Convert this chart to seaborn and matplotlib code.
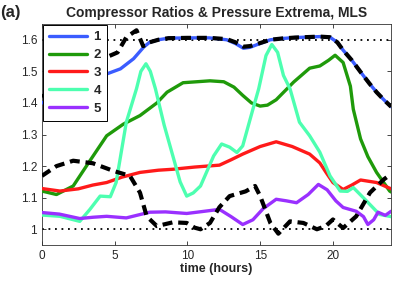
import numpy as np
import pandas as pd
import seaborn as sns
import matplotlib.pyplot as plt

# compressor ratios (series 1..5)
t1 = [0, 2, 4, 5.4, 6.3, 7, 7.4, 8, 8.7, 10, 11.5, 12.7, 13.3, 13.85, 14.3, 14.75, 15.7, 16.5, 17.4, 19.1, 19.8, 20.3, 20.7, 21.3, 21.9, 22.5, 23, 23.5, 24]
y1 = [1.40, 1.44, 1.484, 1.508, 1.540, 1.577, 1.592, 1.600, 1.605, 1.606, 1.606, 1.600, 1.588, 1.573, 1.576, 1.584, 1.600, 1.604, 1.607, 1.610, 1.608, 1.592, 1.567, 1.535, 1.498, 1.462, 1.434, 1.410, 1.388]

t2 = [0, 1, 2.15, 3.3, 4.45, 5.6, 6.74, 7.9, 8.6, 9.7, 11.55, 12.5, 13.2, 13.8, 14.4, 15, 15.5, 16.1, 17.3, 18.4, 19.1, 19.7, 20.15, 20.7, 21.2, 21.4, 21.9, 22.4, 23, 23.9, 24]
y2 = [1.121, 1.11, 1.137, 1.217, 1.296, 1.333, 1.36, 1.40, 1.434, 1.464, 1.47, 1.467, 1.45, 1.424, 1.40, 1.39, 1.393, 1.41, 1.466, 1.51, 1.517, 1.535, 1.551, 1.528, 1.453, 1.38, 1.286, 1.23, 1.18, 1.121, 1.118]

t3 = [0, 1.24, 2.5, 3.5, 4.45, 5.5, 6.74, 8, 9, 10.5, 12.2, 13, 13.8, 15, 16.1, 17.2, 18.4, 19.1, 19.6, 20, 20.7, 21.3, 21.9, 23, 24]
y3 = [1.129, 1.121, 1.128, 1.14, 1.148, 1.165, 1.18, 1.187, 1.19, 1.197, 1.203, 1.22, 1.238, 1.262, 1.277, 1.262, 1.238, 1.21, 1.175, 1.148, 1.126, 1.14, 1.156, 1.148, 1.128]

t4 = [0, 1.24, 2.6, 3.3, 4.0, 4.7, 5.1, 5.8, 6.5, 6.8, 7.15, 7.45, 7.8, 8.4, 9, 9.5, 9.95, 10.4, 10.9, 11.8, 12.35, 12.9, 13.4, 13.8, 14.5, 14.9, 15.4, 15.8, 16.2, 16.6, 17.05, 17.7, 18.4, 19.1, 19.8, 20.5, 21, 21.4, 22.3, 23.2, 24]
y4 = [1.045, 1.041, 1.025, 1.063, 1.105, 1.103, 1.148, 1.339, 1.445, 1.50, 1.524, 1.50, 1.445, 1.33, 1.232, 1.15, 1.105, 1.115, 1.137, 1.232, 1.27, 1.26, 1.243, 1.264, 1.38, 1.445, 1.55, 1.585, 1.56, 1.487, 1.445, 1.339, 1.296, 1.244, 1.169, 1.121, 1.12, 1.132, 1.09, 1.047, 1.04]

t5 = [0, 1.2, 2.6, 3.5, 4.45, 5.8, 7.4, 8.5, 9.95, 11, 12.2, 13, 13.8, 14.5, 15.2, 16.1, 16.8, 17.5, 18.3, 19, 19.6, 20.2, 20.7, 21.6, 22.1, 22.4, 22.8, 23.1, 23.6, 24]
y5 = [1.053, 1.048, 1.034, 1.038, 1.041, 1.036, 1.054, 1.055, 1.05, 1.056, 1.063, 1.04, 1.015, 1.03, 1.065, 1.095, 1.09, 1.084, 1.11, 1.142, 1.125, 1.09, 1.069, 1.057, 1.04, 1.015, 1.03, 1.054, 1.044, 1.057]

# pressure extrema (dashed black)
t_max = [0, 2, 4.2, 5.2, 5.8, 6.5, 6.96, 7.4, 8, 8.7, 10, 11.5, 12.7, 13.3, 13.85, 14.3, 14.75, 15.7, 16.5, 17.4, 19.1, 19.8, 20.3, 20.7, 21.3, 21.9, 22.5, 23, 23.5, 24]
p_max = [1.42, 1.47, 1.54, 1.56, 1.608, 1.63, 1.58, 1.592, 1.600, 1.605, 1.606, 1.606, 1.602, 1.592, 1.578, 1.580, 1.586, 1.600, 1.604, 1.607, 1.610, 1.608, 1.592, 1.567, 1.535, 1.498, 1.462, 1.434, 1.410, 1.388]

t_min = [0, 1, 2.15, 3.5, 4.9, 6.05, 6.74, 7.2, 7.9, 9, 9.95, 10.5, 10.9, 11.55, 12.2, 12.9, 14, 14.65, 15, 15.7, 16.25, 17.05, 17.97, 18.9, 19.5, 20, 20.7, 21.6, 22.55, 23.5, 24]
p_min = [1.169, 1.20, 1.217, 1.209, 1.185, 1.169, 1.116, 1.041, 1.01, 1.022, 1.02, 1.005, 1.0, 1.02, 1.07, 1.105, 1.12, 1.137, 1.105, 1.02, 0.986, 1.025, 1.02, 1.0, 1.01, 1.031, 1.004, 1.041, 1.116, 1.158, 1.175]

labels = ['1', '2', '3', '4', '5']
colors = ['#3a5cff', '#1f9a0a', '#ff1a1a', '#4dffb0', '#9a30ff']
p_bounds = [1.0, 1.6]

sns.set_style('ticks')
plt.rcParams['font.family'] = ['Liberation Sans', 'DejaVu Sans']

fig = plt.figure(figsize=(4.07, 2.82), dpi=100)
ax = fig.add_axes([0.103, 0.131, 0.858, 0.784])

for b in p_bounds:
    ax.axhline(b, color='black', ls=(0, (1, 2.6)), lw=1.3, zorder=1)

series = [(t1, y1), (t2, y2), (t3, y3), (t4, y4), (t5, y5)]
for (t, y), lab, c in zip(series, labels, colors):
    sns.lineplot(x=t, y=y, color=c, lw=2.4, label=lab, ax=ax, sort=False, zorder=3)

for t, p in [(t_max, p_max), (t_min, p_min)]:
    sns.lineplot(x=t, y=p, color='black', lw=3, ax=ax, sort=False, zorder=4,
                 dashes=False, ls=(0, (2.4, 1.4)))

ax.set_xlim(0, 24)
ax.set_ylim(0.95, 1.65)
ax.set_xticks([0, 5, 10, 15, 20])
ax.set_yticks([1, 1.1, 1.2, 1.3, 1.4, 1.5, 1.6])
ax.set_yticklabels(['1', '1.1', '1.2', '1.3', '1.4', '1.5', '1.6'])
ax.tick_params(direction='in', top=True, right=True, labelsize=8.5, length=3, width=0.6)
for s in ax.spines.values():
    s.set_linewidth(0.6)
    s.set_color('#333333')

ax.set_xlabel('time (hours)', fontsize=9, fontweight='bold', labelpad=1)
ax.set_ylabel('')
ax.set_title('Compressor Ratios & Pressure Extrema, MLS', fontsize=10, fontweight='bold', pad=5)
fig.text(0.0, 0.955, '(a)', fontsize=12, fontweight='bold', ha='left', va='center')

h, l = ax.get_legend_handles_labels()
leg = ax.legend(h[:5], l[:5], loc='upper left', fancybox=False, framealpha=1,
                edgecolor='black', handlelength=2.9, borderaxespad=0.1,
                labelspacing=0.42, borderpad=0.45, handletextpad=0.45,
                prop={'weight': 'bold', 'size': 9.5})
leg.get_frame().set_linewidth(0.7)
leg.set_zorder(5)

fig.savefig('out.png', dpi=100)
